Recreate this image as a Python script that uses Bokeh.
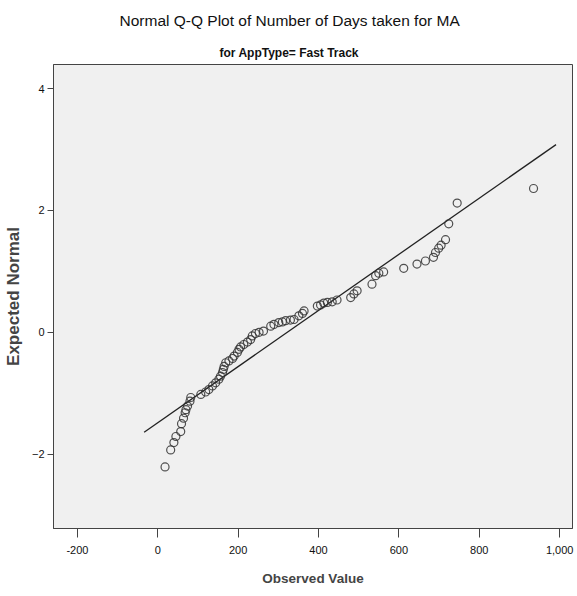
from bokeh.plotting import figure
from bokeh.models import Range1d, FixedTicker, NumeralTickFormatter, ColumnDataSource, Title
from bokeh.embed import file_html
from bokeh.resources import INLINE

observed = [18, 32, 40, 45, 57, 59, 64, 68, 70, 74, 80, 82,
            107, 119, 127, 136, 144, 152, 156, 161, 163, 165, 169, 177,
            186, 190, 198, 202, 206, 214, 223, 231, 235, 243, 252, 263,
            281, 289, 301, 310, 318, 330, 339, 351, 360, 364,
            397, 405, 413, 422, 434, 446, 480, 488, 496,
            533, 542, 550, 562, 612, 645, 666, 686, 691, 699, 705, 716,
            724, 745, 935]
expected = [-2.21, -1.93, -1.81, -1.71, -1.63, -1.50, -1.41, -1.32, -1.27, -1.21, -1.13, -1.07,
            -1.02, -0.98, -0.94, -0.88, -0.83, -0.77, -0.72, -0.66, -0.61, -0.56, -0.50, -0.47,
            -0.43, -0.39, -0.33, -0.28, -0.24, -0.20, -0.16, -0.12, -0.06, -0.02, 0.00, 0.02,
            0.10, 0.13, 0.16, 0.17, 0.19, 0.20, 0.21, 0.27, 0.31, 0.35,
            0.43, 0.45, 0.48, 0.49, 0.50, 0.53, 0.57, 0.63, 0.68,
            0.79, 0.93, 0.97, 0.99, 1.05, 1.12, 1.17, 1.23, 1.31, 1.38, 1.43, 1.52,
            1.78, 2.12, 2.36]

# Reference line endpoints
line_x = [-34, 991]
line_y = [-1.64, 3.08]

x_ticks = [-200, 0, 200, 400, 600, 800, 1000]
y_ticks = [-2, 0, 2, 4]

title_text = "Normal Q-Q Plot of Number of Days taken for MA"
subtitle_text = "for AppType= Fast Track"
x_label = "Observed Value"
y_label = "Expected Normal"

FONT = "Liberation Sans"

p = figure(width=577, height=596, output_backend="svg", toolbar_location=None,
           x_range=Range1d(-259.6, 1032), y_range=Range1d(-3.22, 4.395))
p.title.visible = False
p.min_border_left = 52
p.min_border_right = 5
p.min_border_top = 10
p.min_border_bottom = 68

p.background_fill_color = "#f0f0f0"
p.border_fill_color = "white"
p.outline_line_color = "#444444"
p.outline_line_width = 1
p.grid.visible = False

src = ColumnDataSource(dict(x=observed, y=expected))
p.line(line_x, line_y, line_color="#222222", line_width=1.3)
p.scatter("x", "y", source=src, marker="circle", size=8, fill_color=None,
          line_color="#333333", line_width=1.2, line_alpha=0.85)

xa = p.xaxis[0]
xa.ticker = FixedTicker(ticks=x_ticks)
xa.formatter = NumeralTickFormatter(format="0,0")
xa.axis_label = x_label
xa.axis_label_text_font = FONT
xa.axis_label_text_font_style = "bold"
xa.axis_label_text_font_size = "13.5px"
xa.axis_label_standoff = 14
xa.major_label_text_font = FONT
xa.major_label_text_font_size = "11px"
xa.major_label_text_color = "#111111"
xa.major_label_standoff = 8
xa.major_tick_out = 9
xa.major_tick_in = 0
xa.minor_tick_out = 0
xa.minor_tick_in = 0
xa.axis_line_color = "#444444"
xa.major_tick_line_color = "#444444"

ya = p.yaxis[0]
ya.ticker = FixedTicker(ticks=y_ticks)
ya.axis_label = y_label
ya.axis_label_text_font = FONT
ya.axis_label_text_font_style = "bold"
ya.axis_label_text_font_size = "17px"
ya.axis_label_standoff = 6
ya.major_label_text_font = FONT
ya.major_label_text_font_size = "11px"
ya.major_label_text_color = "#111111"
ya.major_label_standoff = 3
ya.major_tick_out = 6
ya.major_tick_in = 0
ya.minor_tick_out = 0
ya.minor_tick_in = 0
ya.axis_line_color = "#444444"
ya.major_tick_line_color = "#444444"

sub = Title(text=subtitle_text, align="left", offset=166, text_font=FONT,
            text_font_size="12px", text_font_style="bold", text_color="#111111",
            standoff=10)
main = Title(text=title_text, align="left", offset=66, text_font=FONT,
             text_font_size="15.5px", text_font_style="normal", text_color="#111111",
             standoff=19)
p.add_layout(sub, "above")
p.add_layout(main, "above")

open("out.html", "w").write(file_html(p, INLINE))
